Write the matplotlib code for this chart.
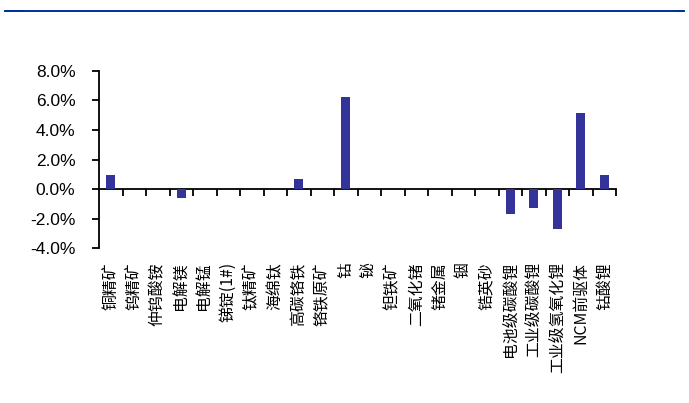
import matplotlib
matplotlib.use("Agg")
import matplotlib.pyplot as plt
import numpy as np
from matplotlib.lines import Line2D
from matplotlib.patches import Rectangle
from matplotlib.ticker import FixedLocator, FuncFormatter

# Weekly price change by product
categories = ["铜精矿", "钨精矿", "仲钨酸铵", "电解镁", "电解锰", "锑锭(1#)", "钛精矿",
              "海绵钛", "高碳铬铁", "铬铁原矿", "钴", "铋", "钽铁矿", "二氧化锗",
              "锗金属", "铟", "锆英砂", "电池级碳酸锂", "工业级碳酸锂",
              "工业级氢氧化锂", "NCM前驱体", "钴酸锂"]
changes = [0.95, 0.0, 0.0, -0.6, 0.0, 0.0, 0.0, 0.0, 0.7, 0.0, 6.2, 0.0, 0.0, 0.0,
           0.0, 0.0, 0.0, -1.65, -1.25, -2.72, 5.15, 0.95]
y_ticks = [-4, -2, 0, 2, 4, 6, 8]

bar_color = "#333399"
rule_color = "#003399"

fig = plt.figure(figsize=(6.89, 4.03), dpi=100)
ax = fig.add_axes([99 / 689, 1 - 248.3 / 403, (616 - 99) / 689, (248.3 - 70.7) / 403])

x = np.arange(len(categories))
ax.bar(x, changes, width=0.38, color=bar_color, zorder=3)

ax.set_xlim(-0.5, len(categories) - 0.5)
ax.set_ylim(y_ticks[0], y_ticks[-1])

for side in ("top", "right", "bottom"):
    ax.spines[side].set_visible(False)
ax.spines["left"].set_linewidth(1.3)
ax.spines["left"].set_color("black")

# y axis
ax.yaxis.set_major_locator(FixedLocator(y_ticks))
ax.yaxis.set_major_formatter(FuncFormatter(lambda v, p: f"{v:.1f}%"))
ax.tick_params(axis="y", direction="out", length=5, width=1.3, pad=12,
               labelsize=12.5, colors="black")
for lab in ax.get_yticklabels():
    lab.set_family(["Liberation Sans Narrow", "Liberation Sans", "DejaVu Sans"])

# category labels at the bottom of the plot area
ax.set_xticks(x)
ax.set_xticklabels(categories, rotation=90, ha="center", va="top",
                   family=["Noto Sans CJK SC", "DejaVu Sans"], fontsize=11.4)
ax.tick_params(axis="x", length=0, pad=10)

# zero line with category separators
zero = ax.secondary_xaxis((0 - y_ticks[0]) / (y_ticks[-1] - y_ticks[0]))
zero.set_xticks(np.arange(len(categories)) + 0.5)
zero.set_xticklabels([])
zero.tick_params(axis="x", direction="out", length=5, width=1.3)
zero.spines["bottom"].set_linewidth(1.3)

# header rule
fig.add_artist(Line2D([5 / 689, 684 / 689], [1 - 10.5 / 403] * 2,
                      transform=fig.transFigure, color=rule_color, linewidth=1.4))
fig.add_artist(Rectangle((5 / 689, 1 - 12.3 / 403), 19 / 689, 2.2 / 403,
                         transform=fig.transFigure, color=rule_color, lw=0))
fig.add_artist(Rectangle((674 / 689, 1 - 12.3 / 403), 10 / 689, 2.2 / 403,
                         transform=fig.transFigure, color=rule_color, lw=0))

fig.savefig("out.png", dpi=100)
